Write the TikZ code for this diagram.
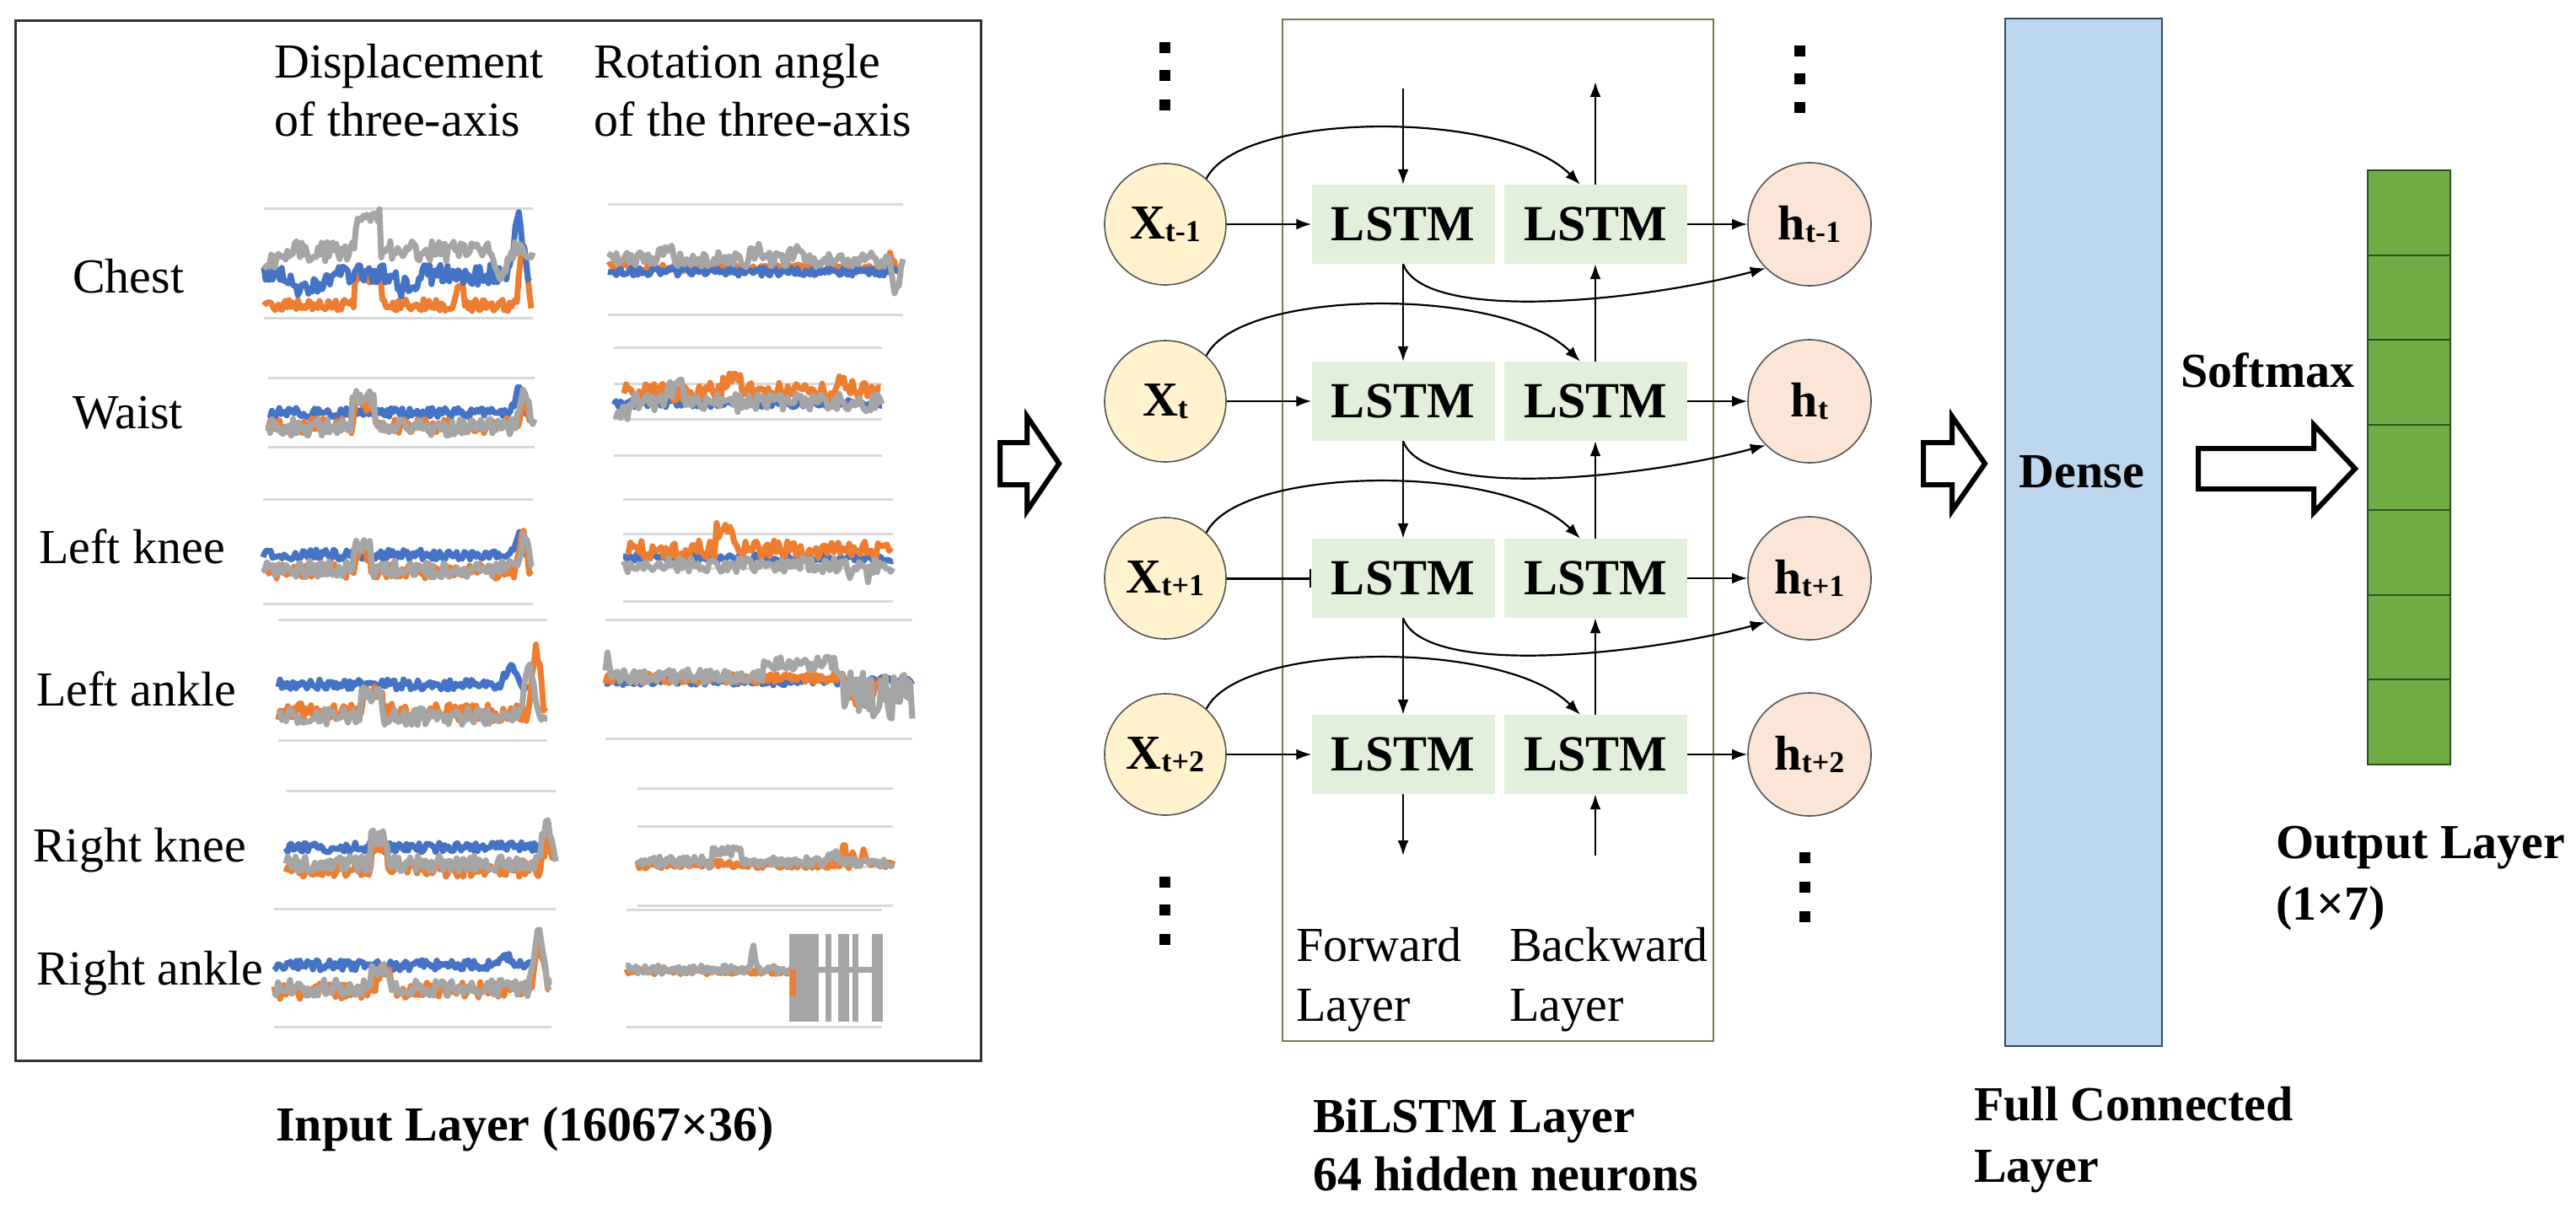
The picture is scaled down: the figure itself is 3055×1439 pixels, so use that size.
\documentclass[tikz,border=0pt]{standalone}
\usepackage{fontspec}
\setmainfont{Liberation Serif}
\usetikzlibrary{arrows.meta}
\definecolor{cblue}{HTML}{4472C4}
\definecolor{corange}{HTML}{ED7D31}
\definecolor{cgrey}{HTML}{A5A5A5}
\definecolor{cgrid}{HTML}{D9D9D9}
\definecolor{xfill}{HTML}{FFF2CC}
\definecolor{hfill}{HTML}{FBE5D6}
\definecolor{lfill}{HTML}{E2EFDA}
\definecolor{dfill}{HTML}{BDD7EE}
\definecolor{dline}{HTML}{2F4A6A}
\definecolor{ofill}{HTML}{70AD47}
\definecolor{oline}{HTML}{2E4F1C}
\definecolor{bline}{HTML}{6E7E4C}
\definecolor{cline}{HTML}{555555}
\newcommand\sublab[2]{#1{\fontsize{36}{36}\selectfont\raisebox{-3pt}{#2}}}
\begin{document}
\begin{tikzpicture}[x=1pt,y=-1pt,
  txt/.style={font=\fontsize{58}{70}\selectfont, inner sep=0pt, anchor=base west},
  btxt/.style={font=\fontsize{58}{70}\selectfont\bfseries, inner sep=0pt, anchor=base west},
  grid/.style={cgrid, line width=3pt},
  tr/.style={line width=7pt, line join=round},
  xnode/.style={circle, draw=cline, line width=1.6pt, fill=xfill, minimum size=144pt, inner sep=0pt, font=\fontsize{58}{70}\selectfont\bfseries},
  hnode/.style={circle, draw=cline, line width=1.6pt, fill=hfill, minimum size=146pt, inner sep=0pt, font=\fontsize{58}{70}\selectfont\bfseries},
  lstm/.style={rectangle, fill=lfill, minimum width=217pt, minimum height=94pt, inner sep=0pt, font=\fontsize{60}{72}\selectfont\bfseries},
  arr/.style={-{Latex[length=18pt,width=13pt]}, line width=2.2pt},
  barr/.style={-{Bar[width=22pt,line width=2.5pt]}, line width=3pt},
  cell/.style={rectangle, draw=oline, line width=2pt, fill=ofill, minimum width=98pt, minimum height=100.7pt, inner sep=0pt},
  hollow/.style={draw=black, line width=6pt, fill=white, line join=miter}
]
\useasboundingbox (0,0) rectangle (3055,1439);
\fill[white] (0,0) rectangle (3055,1439);

% ---------------- Input panel ----------------
\draw[line width=3pt, draw=black!80] (18,25) rectangle (1163,1258);
\node[txt] (disp1) at (325,93) {Displacement};
\node[txt] (disp2) at (325,162) {of three-axis};
\node[txt] (rot1) at (704,93) {Rotation angle};
\node[txt] (rot2) at (704,162) {of the three-axis};
\node[txt] (chest) at (86,348) {Chest};
\node[txt] (waist) at (86,508) {Waist};
\node[txt] (lknee) at (46,668) {Left knee};
\node[txt] (lankle) at (43,837) {Left ankle};
\node[txt] (rknee) at (39,1022) {Right knee};
\node[txt] (rankle) at (43,1168) {Right ankle};
\node[btxt] (inlab) at (327,1353) {Input Layer (16067×36)};

\pgfmathsetseed{11}
% Chest displacement
\draw[grid] (313,248) -- (632,248) (313,377) -- (632,377);
\draw[tr,corange] plot[domain=313:630,samples=150] (\x,{362+7*rand-33*(\x>421)*(\x<452)-16*(\x>540)*(\x<550)-80*max(0,1-abs(\x-621)/9)});
\draw[tr,cblue] plot[domain=313:628,samples=150] (\x,{326+12*rand+16*(\x>345)*(\x<385)+14*(\x>470)*(\x<500)-68*max(0,1-abs(\x-615)/12)});
\draw[tr,cgrey] plot[domain=313:632,samples=150] (\x,{298+12*rand-38*(\x>421)*(\x<452)+12*(\x<330)+30*max(0,1-abs(\x-595)/12)});
% Chest rotation
\draw[grid] (721,243) -- (1071,243) (721,373) -- (1071,373);
\draw[tr,corange] plot[domain=721:1068,samples=140] (\x,{318+5*rand-18*max(0,1-abs(\x-1055)/8)});
\draw[tr,cblue] plot[domain=721:1068,samples=140] (\x,{322+5*rand});
\draw[tr,cgrey] plot[domain=721:1071,samples=140] (\x,{308+9*rand-14*max(0,1-abs(\x-790)/15)-14*max(0,1-abs(\x-900)/15)-12*max(0,1-abs(\x-945)/12)+40*max(0,1-abs(\x-1062)/9)});
% Waist displacement
\draw[grid] (318,448) -- (634,448) (318,530) -- (634,530);
\draw[tr,cblue] plot[domain=318:625,samples=140] (\x,{490+6*rand-30*max(0,1-abs(\x-615)/10)});
\draw[tr,corange] plot[domain=318:630,samples=140] (\x,{505+9*rand-25*(\x>420)*(\x<445)-40*max(0,1-abs(\x-622)/8)});
\draw[tr,cgrey] plot[domain=318:634,samples=140] (\x,{507+10*rand-35*(\x>418)*(\x<445)-50*max(0,1-abs(\x-622)/10)});
% Waist rotation
\draw[grid] (728,412) -- (1046,412) (728,455) -- (1046,455) (728,497) -- (1046,497) (728,540) -- (1046,540);
\draw[tr,cblue] plot[domain=728:1046,samples=120] (\x,{478+5*rand});
\draw[tr,corange] plot[domain=740:1044,samples=120] (\x,{465+11*rand-15*(\x>855)*(\x<880)-12*max(0,1-abs(\x-1000)/15)});
\draw[tr,cgrey] plot[domain=728:1046,samples=120] (\x,{478+11*rand-18*(\x>790)*(\x<810)+10*(\x<750)});
% Left knee displacement
\draw[grid] (312,592) -- (632,592) (312,716) -- (632,716);
\draw[tr,cblue] plot[domain=312:625,samples=140] (\x,{658+6*rand-25*max(0,1-abs(\x-615)/10)});
\draw[tr,corange] plot[domain=312:630,samples=140] (\x,{678+9*rand-22*(\x>420)*(\x<440)-45*max(0,1-abs(\x-620)/9)});
\draw[tr,cgrey] plot[domain=312:632,samples=140] (\x,{675+10*rand-30*(\x>418)*(\x<440)-40*max(0,1-abs(\x-622)/10)});
% Left knee rotation
\draw[grid] (739,592) -- (1059,592) (739,633) -- (1059,633) (739,674) -- (1059,674) (739,713) -- (1059,713);
\draw[tr,cblue] plot[domain=739:1059,samples=120] (\x,{662+5*rand});
\draw[tr,corange] plot[domain=745:1057,samples=120] (\x,{652+11*rand-22*(\x>848)*(\x<870)});
\draw[tr,cgrey] plot[domain=739:1059,samples=120] (\x,{670+9*rand+15*max(0,1-abs(\x-1010)/6)+15*max(0,1-abs(\x-1030)/6)});
% Left ankle displacement
\draw[grid] (330,735) -- (649,735) (330,878) -- (649,878);
\draw[tr,cblue] plot[domain=330:625,samples=140] (\x,{812+6*rand-25*max(0,1-abs(\x-605)/12)});
\draw[tr,corange] plot[domain=330:647,samples=140] (\x,{845+11*rand-25*(\x>430)*(\x<455)-85*max(0,1-abs(\x-636)/10)});
\draw[tr,cgrey] plot[domain=330:649,samples=140] (\x,{850+10*rand-25*(\x>428)*(\x<452)-70*max(0,1-abs(\x-628)/12)});
% Left ankle rotation
\draw[grid] (718,735) -- (1082,735) (718,876) -- (1082,876);
\draw[tr,cblue] plot[domain=718:1082,samples=140] (\x,{808+5*rand});
\draw[tr,corange] plot[domain=718:1080,samples=140] (\x,{805+6*rand+(\x>1000)*(15+14*rand)});
\draw[tr,cgrey] plot[domain=718:1082,samples=150] (\x,{802+8*rand-30*max(0,1-abs(\x-721)/5)-15*(\x>905)*(\x<990)+(\x>1000)*(20+26*rand)});
% Right knee displacement
\draw[grid] (339,938) -- (659,938) (339,1078) -- (659,1078);
\draw[tr,cblue] plot[domain=339:640,samples=140] (\x,{1005+6*rand});
\draw[tr,corange] plot[domain=339:657,samples=140] (\x,{1030+10*rand-25*(\x>440)*(\x<460)-45*max(0,1-abs(\x-650)/9)});
\draw[tr,cgrey] plot[domain=339:659,samples=140] (\x,{1025+10*rand-30*(\x>438)*(\x<460)-55*max(0,1-abs(\x-648)/10)});
% Right knee rotation
\draw[grid] (756,935) -- (1059,935) (756,980) -- (1059,980) (756,1028) -- (1059,1028) (756,1074) -- (1059,1074);
\draw[tr,corange] plot[domain=756:1059,samples=140] (\x,{1025+5*rand-30*max(0,1-abs(\x-1001)/4)-18*max(0,1-abs(\x-1012)/4)-18*max(0,1-abs(\x-1025)/4)});
\draw[tr,cgrey] plot[domain=756:1059,samples=140] (\x,{1022+6*rand-12*(\x>845)*(\x<880)-10*max(0,1-abs(\x-990)/10)});
% Right ankle displacement
\draw[grid] (325,1078) -- (654,1078) (325,1218) -- (654,1218);
\draw[tr,cblue] plot[domain=325:630,samples=140] (\x,{1145+6*rand-12*max(0,1-abs(\x-600)/12)});
\draw[tr,corange] plot[domain=325:652,samples=140] (\x,{1175+10*rand-20*(\x>445)*(\x<465)-60*max(0,1-abs(\x-640)/10)});
\draw[tr,cgrey] plot[domain=325:654,samples=140] (\x,{1172+10*rand-25*(\x>440)*(\x<462)-75*max(0,1-abs(\x-638)/12)});
% Right ankle rotation
\draw[grid] (743,1079) -- (1046,1079) (743,1218) -- (1046,1218);
\draw[tr,corange] plot[domain=743:940,samples=90] (\x,{1152+4*rand});
\draw[tr,cgrey] plot[domain=743:940,samples=90] (\x,{1150+5*rand-35*max(0,1-abs(\x-893)/4)});
\fill[cgrey] (936,1108) rectangle (971,1212);
\draw[tr,corange] (940,1150) -- (940,1182);
\draw[tr,cgrey] (982,1108) -- (982,1212) (997,1108) -- (997,1212) (1003,1108) -- (1003,1212) (1014,1108) -- (1014,1212) (1037,1108) -- (1037,1212) (1043,1108) -- (1043,1212);
\draw[tr,cgrey] (971,1150) -- (1046,1150);

% ---------------- hollow arrows ----------------
\draw[hollow] (1186,525) -- (1218,525) -- (1218,494) -- (1256,550) -- (1218,606) -- (1218,575) -- (1186,575) -- cycle;
\draw[hollow] (2281,525) -- (2315,525) -- (2315,494) -- (2354,550) -- (2315,606) -- (2315,575) -- (2281,575) -- cycle;
\draw[hollow] (2607,532) -- (2744,532) -- (2744,504) -- (2793,556) -- (2744,608) -- (2744,580) -- (2607,580) -- cycle;

% ---------------- BiLSTM ----------------
\draw[bline, line width=2pt] (1521,23) rectangle (2032,1235);

\foreach \yy in {56,89,124} {\fill (1375,\yy-6) rectangle (1388,\yy+7);}
\foreach \yy in {60,93,127} {\fill (2128,\yy-6) rectangle (2141,\yy+7);}
\foreach \yy in {1046,1079,1114} {\fill (1375,\yy-6) rectangle (1388,\yy+7);}
\foreach \yy in {1017,1052,1087} {\fill (2134,\yy-6) rectangle (2147,\yy+7);}

\node[xnode] (X1) at (1382,266) {\sublab{X}{t-1}};
\node[xnode] (X2) at (1382,476) {\sublab{X}{t}};
\node[xnode] (X3) at (1382,686) {\sublab{X}{t+1}};
\node[xnode] (X4) at (1382,895) {\sublab{X}{t+2}};
\node[hnode] (H1) at (2146,266) {\sublab{h}{t-1}};
\node[hnode] (H2) at (2146,476) {\sublab{h}{t}};
\node[hnode] (H3) at (2146,686) {\sublab{h}{t+1}};
\node[hnode] (H4) at (2146,895) {\sublab{h}{t+2}};
\foreach \i/\yy in {1/266,2/476,3/686,4/895} {
  \node[lstm] (F\i) at (1664,\yy) {LSTM};
  \node[lstm] (B\i) at (1892,\yy) {LSTM};
}
\coordinate (ftop) at (1664,105);
\coordinate (btop) at (1892,97);
\coordinate (fbot) at (1664,1015);
\coordinate (bbot) at (1892,1015);

\draw[arr] (X1) -- (F1);
\draw[arr] (X2) -- (F2);
\draw[barr] (X3) -- (F3);
\draw[arr] (X4) -- (F4);
\foreach \i in {1,2,3,4} {\draw[arr] (B\i) -- (H\i);}
\draw[arr] (ftop) -- (F1);
\draw[arr] (B1) -- (btop);
\draw[arr] (F1) -- (F2);
\draw[arr] (F2) -- (F3);
\draw[arr] (F3) -- (F4);
\draw[arr] (B2) -- (B1);
\draw[arr] (B3) -- (B2);
\draw[arr] (B4) -- (B3);
\draw[arr] (F4) -- (fbot);
\draw[arr] (bbot) -- (B4);
\foreach \i in {1,2,3,4} {
  \draw[arr] (X\i.48) .. controls +(40,-80) and +(-90,-90) .. ([xshift=-18pt]B\i.north);
}
\foreach \i in {1,2,3} {
  \draw[arr] (F\i.south) .. controls +(25,70) and +(-150,40) .. (H\i.225);
}

\node[txt] (fw1) at (1537,1140) {Forward};
\node[txt] (fw2) at (1537,1211) {Layer};
\node[txt] (bw1) at (1790,1140) {Backward};
\node[txt] (bw2) at (1790,1211) {Layer};
\node[btxt] (bil1) at (1557,1343) {BiLSTM Layer};
\node[btxt] (bil2) at (1557,1412) {64 hidden neurons};

% ---------------- Dense ----------------
\node[rectangle, draw=dline, line width=2pt, fill=dfill, minimum width=186pt, minimum height=1219pt, inner sep=0pt] (dense) at (2471,631.5) {};
\node[font=\fontsize{58}{70}\selectfont\bfseries, inner sep=0pt] (densetxt) at (2469,560) {Dense};
\node[btxt] (fc1) at (2341,1329) {Full Connected};
\node[btxt] (fc2) at (2341,1402) {Layer};
\node[btxt] (soft) at (2586,459) {Softmax};

% ---------------- Output ----------------
\foreach \i in {1,...,7} {
  \node[cell] (o\i) at (2857,{202+50.35+(\i-1)*100.7}) {};
}
\node[btxt] (ol1) at (2699,1018) {Output Layer};
\node[btxt] (ol2) at (2699,1091) {(1×7)};
\end{tikzpicture}
\end{document}
